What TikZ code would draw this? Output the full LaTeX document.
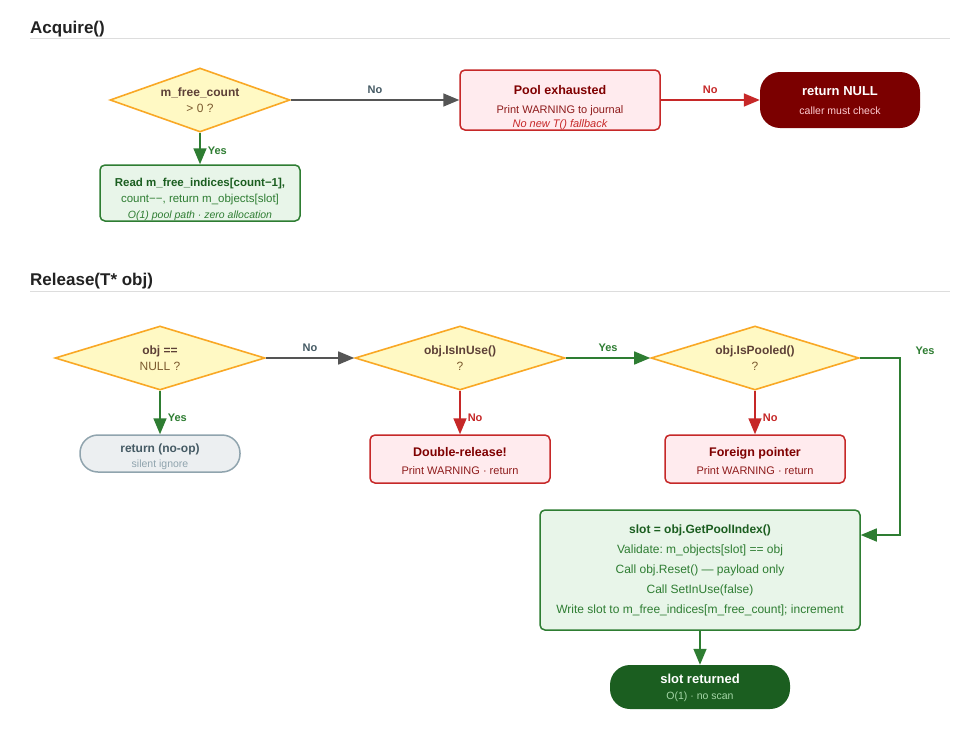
\documentclass[tikz,border=0pt]{standalone}
\usepackage{fontspec}
\setmainfont{Liberation Sans}
\frenchspacing
\usetikzlibrary{shapes.geometric,arrows.meta,calc}
\definecolor{dFill}{HTML}{FFF9C4}
\definecolor{dBorder}{HTML}{F9A825}
\definecolor{dText}{HTML}{5D4037}
\definecolor{dText2}{HTML}{7B5A2E}
\definecolor{gFill}{HTML}{E8F5E9}
\definecolor{gBorder}{HTML}{2E7D32}
\definecolor{gText}{HTML}{1B5E20}
\definecolor{gText2}{HTML}{2E7D32}
\definecolor{rFill}{HTML}{FFEBEE}
\definecolor{rBorder}{HTML}{C62828}
\definecolor{rText}{HTML}{7F0000}
\definecolor{rText2}{HTML}{8E1B1B}
\definecolor{nullFill}{HTML}{7B0000}
\definecolor{nullSub}{HTML}{FFCDD2}
\definecolor{noopFill}{HTML}{ECEFF1}
\definecolor{noopBorder}{HTML}{90A4AE}
\definecolor{noopText}{HTML}{455A64}
\definecolor{slotFill}{HTML}{1B5E20}
\definecolor{slotSub}{HTML}{A5D6A7}
\definecolor{arrGray}{HTML}{555555}
\definecolor{hdr}{HTML}{222222}
\definecolor{hdrLine}{HTML}{DDDDDD}
\tikzset{
  decision/.style={diamond, aspect=2.8, draw=dBorder, fill=dFill, line width=1.6pt,
    minimum width=180pt, minimum height=64pt, inner sep=0pt, align=center,
    font=\fontsize{12}{16}\selectfont, text=dText2},
  gbox/.style={rectangle, rounded corners=5pt, draw=gBorder, fill=gFill, line width=1.5pt, inner sep=0pt},
  rbox/.style={rectangle, rounded corners=5pt, draw=rBorder, fill=rFill, line width=1.5pt, inner sep=0pt},
  pill/.style={rectangle, rounded corners=20pt, inner sep=0pt},
  txt/.style={align=center, inner sep=0pt, anchor=center},
  header/.style={anchor=base west, font=\fontsize{17}{20}\selectfont\bfseries, text=hdr, inner sep=0pt},
  tip/.style={-{Triangle[length=16pt,width=13pt]}},
  garrow/.style={draw=arrGray, line width=1.6pt, tip},
  rarrow/.style={draw=rBorder, line width=1.6pt, tip},
  yarrow/.style={draw=gBorder, line width=1.6pt, tip},
  lblg/.style={font=\fontsize{11}{12}\selectfont\bfseries, text=noopText, inner sep=1pt},
  lblr/.style={font=\fontsize{11}{12}\selectfont\bfseries, text=rBorder, inner sep=1pt},
  lbly/.style={font=\fontsize{11}{12}\selectfont\bfseries, text=gBorder, inner sep=1pt},
}
\begin{document}
\begin{tikzpicture}[x=1pt,y=-1pt]
\useasboundingbox (0,0) rectangle (980,744);
\fill[white] (0,0) rectangle (980,744);

% headers
\node[header] (h1) at (30,33) {Acquire()};
\draw[hdrLine, line width=1pt] (30,38) -- (950,38);
\node[header] (h2) at (30,285) {Release(T* obj)};
\draw[hdrLine, line width=1pt] (30,291) -- (950,291);

% Acquire
\node[decision] (acq) at (200,100) {\textbf{\textcolor{dText}{m\_free\_count}}\\[0pt]\textgreater{} 0 ?};

\node[rbox, minimum width=200pt, minimum height=60pt] (pool) at (560,100) {};
\node[txt, text=rText2, font=\fontsize{11}{14}\selectfont] (poolT) at (560,107.5)
  {{\fontsize{12.5}{14}\selectfont\bfseries\textcolor{rText}{Pool exhausted}}\\[5pt]
   Print WARNING to journal\\
   {\itshape\textcolor{rBorder}{No new T() fallback}}};

\node[pill, fill=nullFill, minimum width=160pt, minimum height=56pt] (null) at (840,100) {};
\node[txt, font=\fontsize{10.5}{19}\selectfont] (nullT) at (840,100.5)
  {{\fontsize{13}{15}\selectfont\bfseries\textcolor{white}{return NULL}}\\
   \textcolor{nullSub}{caller must check}};

\node[gbox, minimum width=200pt, minimum height=56pt] (read) at (200,193) {};
\node[txt, text=gText2, font=\fontsize{11.5}{16}\selectfont] (readT) at (200,199)
  {{\bfseries\textcolor{gText}{Read m\_free\_indices[count−1],}}\\
   count−−, return m\_objects[slot]\\
   {\fontsize{10.5}{16}\selectfont\itshape O(1) pool path · zero allocation}};

\draw[garrow] (acq.east) -- node[lblg, above=5pt] {No} (pool.west);
\draw[rarrow] (pool.east) -- node[lblr, above=5pt] {No} (null.west);
\draw[yarrow] (acq.south) -- node[lbly, right=6pt, pos=0.58] {Yes} (read.north);

% Release
\node[decision, minimum width=210pt] (isnull) at (160,358) {\textbf{\textcolor{dText}{obj ==}}\\[0pt]NULL ?};
\node[decision, minimum width=210pt] (inuse) at (460,358) {\textbf{\textcolor{dText}{obj.IsInUse()}}\\[0pt]?};
\node[decision, minimum width=208pt] (pooled) at (755,358) {\textbf{\textcolor{dText}{obj.IsPooled()}}\\[0pt]?};

\node[pill, draw=noopBorder, fill=noopFill, line width=1.5pt, minimum width=160pt, minimum height=37pt, rounded corners=18pt] (noop) at (160,453.5) {};
\node[txt, font=\fontsize{10.5}{15}\selectfont] (noopT) at (160,456.5)
  {{\fontsize{12}{15}\selectfont\bfseries\textcolor{noopText}{return (no-op)}}\\
   \textcolor{noopBorder}{silent ignore}};

\node[rbox, minimum width=180pt, minimum height=48pt] (dbl) at (460,459) {};
\node[txt, text=rText2, font=\fontsize{11}{18}\selectfont] (dblT) at (460,461)
  {{\fontsize{12.5}{18}\selectfont\bfseries\textcolor{rText}{Double-release!}}\\
   Print WARNING · return};

\node[rbox, minimum width=180pt, minimum height=48pt] (foreign) at (755,459) {};
\node[txt, text=rText2, font=\fontsize{11}{18}\selectfont] (foreignT) at (755,461)
  {{\fontsize{12.5}{18}\selectfont\bfseries\textcolor{rText}{Foreign pointer}}\\
   Print WARNING · return};

\node[gbox, minimum width=320pt, minimum height=120pt] (slot) at (700,570) {};
\node[txt, text=gText2, font=\fontsize{12}{20}\selectfont] (slotT) at (700,570)
  {{\bfseries\textcolor{gText}{slot = obj.GetPoolIndex()}}\\
   Validate: m\_objects[slot] == obj\\
   Call obj.Reset() — payload only\\
   Call SetInUse(false)\\
   Write slot to m\_free\_indices[m\_free\_count]; increment};

\node[pill, fill=slotFill, minimum width=180pt, minimum height=44pt] (ret) at (700,687) {};
\node[txt, font=\fontsize{10.5}{16}\selectfont] (retT) at (700,688)
  {{\fontsize{13}{16}\selectfont\bfseries\textcolor{white}{slot returned}}\\
   \textcolor{slotSub}{O(1) · no scan}};

\coordinate (corner) at (900,358);
\coordinate (entry) at (900,535);
\draw[garrow] (isnull.east) -- node[lblg, above=5pt] {No} (inuse.west);
\draw[yarrow] (inuse.east) -- node[lbly, above=5pt] {Yes} (pooled.west);
\draw[yarrow] (isnull.south) -- node[lbly, right=6pt, pos=0.62] {Yes} (noop.north);
\draw[rarrow] (inuse.south) -- node[lblr, right=6pt, pos=0.62] {No} (dbl.north);
\draw[rarrow] (pooled.south) -- node[lblr, right=6pt, pos=0.62] {No} (foreign.north);
\draw[yarrow] (pooled.east) -- (corner) -- (entry) -- (entry -| slot.east);
\node[lbly, anchor=center] (yeslbl) at (925,351) {Yes};
\draw[yarrow] (slot.south) -- (ret.north);
\end{tikzpicture}
\end{document}
